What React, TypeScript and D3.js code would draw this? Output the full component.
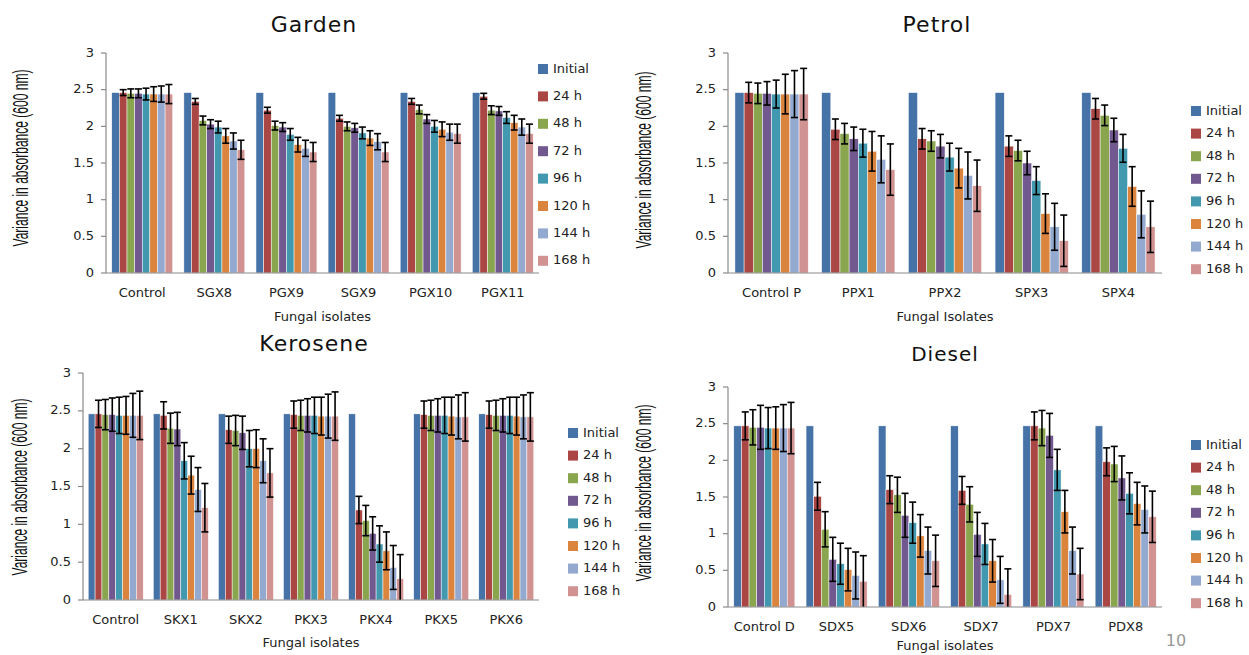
import React, { useLayoutEffect, useRef, useState } from "react";
import * as d3 from "d3";

const seriesLabels = ["Initial", "24 h", "48 h", "72 h", "96 h", "120 h", "144 h", "168 h"];
const seriesColors = ["#4572A7", "#AA4643", "#89A54E", "#71588F", "#4198AF", "#DB843D", "#93A9CF", "#D19392"];
const yTicks = [0, 0.5, 1, 1.5, 2, 2.5, 3];

// Garden
const gardenIsolates = ["Control", "SGX8", "PGX9", "SGX9", "PGX10", "PGX11"];
const gardenValues = [
  [2.46, 2.46, 2.45, 2.45, 2.44, 2.44, 2.44, 2.44],
  [2.46, 2.34, 2.08, 2.03, 1.99, 1.87, 1.8, 1.68],
  [2.46, 2.22, 2.01, 1.99, 1.89, 1.75, 1.7, 1.65],
  [2.46, 2.11, 2.0, 1.98, 1.91, 1.84, 1.79, 1.65],
  [2.46, 2.34, 2.23, 2.1, 2.0, 1.96, 1.92, 1.9],
  [2.46, 2.41, 2.22, 2.21, 2.12, 2.05, 1.99, 1.9],
];
const gardenErrors = [0, 0.04, 0.06, 0.06, 0.08, 0.1, 0.11, 0.13];

// Petrol
const petrolIsolates = ["Control P", "PPX1", "PPX2", "SPX3", "SPX4"];
const petrolValues = [
  [2.46, 2.46, 2.45, 2.45, 2.44, 2.44, 2.44, 2.44],
  [2.46, 1.96, 1.9, 1.83, 1.77, 1.66, 1.55, 1.41],
  [2.46, 1.83, 1.8, 1.73, 1.58, 1.43, 1.33, 1.19],
  [2.46, 1.73, 1.67, 1.5, 1.26, 0.81, 0.63, 0.44],
  [2.46, 2.24, 2.15, 1.95, 1.7, 1.18, 0.8, 0.63],
];
const petrolErrors = [0, 0.14, 0.14, 0.16, 0.19, 0.27, 0.32, 0.35];

// Kerosene
const keroseneIsolates = ["Control", "SKX1", "SKX2", "PKX3", "PKX4", "PKX5", "PKX6"];
const keroseneValues = [
  [2.46, 2.46, 2.45, 2.45, 2.44, 2.44, 2.44, 2.44],
  [2.46, 2.44, 2.27, 2.26, 1.84, 1.65, 1.46, 1.22],
  [2.46, 2.25, 2.24, 2.21, 2.0, 2.0, 1.84, 1.68],
  [2.46, 2.45, 2.44, 2.44, 2.44, 2.43, 2.43, 2.43],
  [2.46, 1.19, 1.05, 0.88, 0.74, 0.65, 0.43, 0.28],
  [2.46, 2.45, 2.44, 2.44, 2.44, 2.43, 2.42, 2.42],
  [2.46, 2.45, 2.44, 2.44, 2.44, 2.43, 2.42, 2.42],
];
const keroseneErrors = [0, 0.18, 0.2, 0.22, 0.24, 0.25, 0.29, 0.32];

// Diesel
const dieselIsolates = ["Control D", "SDX5", "SDX6", "SDX7", "PDX7", "PDX8"];
const dieselValues = [
  [2.47, 2.47, 2.45, 2.45, 2.44, 2.44, 2.44, 2.44],
  [2.47, 1.51, 1.06, 0.65, 0.59, 0.51, 0.43, 0.35],
  [2.47, 1.6, 1.53, 1.25, 1.15, 0.97, 0.77, 0.63],
  [2.47, 1.59, 1.4, 0.99, 0.86, 0.63, 0.37, 0.17],
  [2.47, 2.47, 2.44, 2.34, 1.87, 1.3, 0.77, 0.45],
  [2.47, 1.98, 1.95, 1.76, 1.55, 1.41, 1.33, 1.23],
];
const dieselErrors = [0, 0.19, 0.24, 0.3, 0.28, 0.29, 0.32, 0.35];

const FONT = "'DejaVu Sans', Verdana, sans-serif";

type Layout = {
  x0: number; x1: number; yZero: number; yTop: number;
  titleX: number; titleY: number; titleSize: number;
  legendX: number; legendY: number; legendStep: number;
  labelX: number; labelCy: number;
  tickY: number; xTitleY: number; xTitle: string;
};

// squeezed y-axis label, scaled to fit a fixed length
const SqueezedLabel = ({ x, cy, text }: { x: number; cy: number; text: string }) => {
  const ref = useRef<SVGTextElement>(null);
  const [sx, setSx] = useState(0.53);
  useLayoutEffect(() => {
    if (ref.current) {
      const w = ref.current.getComputedTextLength();
      if (w > 0) setSx(177 / w);
    }
  }, [text]);
  return (
    <text
      ref={ref}
      transform={`translate(${x},${cy}) rotate(-90) scale(${sx},1)`}
      textAnchor="middle"
      fontSize={22}
      fill="#111"
      fontFamily="'Liberation Sans', Arial, sans-serif"
      dominantBaseline="middle"
    >
      {text}
    </text>
  );
};

const Panel = ({ title, isolates, values, errors, lay }: {
  title: string; isolates: string[]; values: number[][]; errors: number[]; lay: Layout;
}) => {
  const x = d3.scaleBand().domain(isolates).range([lay.x0, lay.x1]).paddingInner(0.155).paddingOuter(0.08);
  const xs = d3.scaleBand().domain(seriesLabels).range([0, x.bandwidth()]);
  const y = d3.scaleLinear().domain([0, 3]).range([lay.yZero, lay.yTop]);
  const bw = xs.bandwidth();
  return (
    <g fontFamily={FONT}>
      <text x={lay.titleX} y={lay.titleY} textAnchor="middle" fontSize={lay.titleSize} fill="#111" letterSpacing={1}>
        {title}
      </text>
      <SqueezedLabel x={lay.labelX} cy={lay.labelCy} text="Variance in absorbance (600 nm)" />
      {/* y axis */}
      <line x1={lay.x0} x2={lay.x0} y1={y(0)} y2={y(3)} stroke="#8a8a8a" strokeWidth={1.2} />
      {yTicks.map((t) => (
        <g key={t}>
          <line x1={lay.x0 - 5} x2={lay.x0} y1={y(t)} y2={y(t)} stroke="#8a8a8a" strokeWidth={1.2} />
          <text x={lay.x0 - 12} y={y(t)} textAnchor="end" dominantBaseline="middle" fontSize={13} fill="#222">
            {t}
          </text>
        </g>
      ))}
      {/* bars */}
      {isolates.map((iso, gi) => (
        <g key={iso} transform={`translate(${x(iso)},0)`}>
          {values[gi].map((v, si) => (
            <rect
              key={si}
              x={xs(seriesLabels[si])}
              y={y(v)}
              width={bw}
              height={y(0) - y(v)}
              fill={seriesColors[si]}
              stroke="#fff"
              strokeWidth={0.5}
            />
          ))}
          {values[gi].map((v, si) => {
            if (errors[si] <= 0) return null;
            const cx = (xs(seriesLabels[si]) as number) + bw / 2;
            const hi = v + errors[si];
            const lo = v - errors[si];
            return (
              <g key={"e" + si} stroke="#000" strokeWidth={1.6}>
                <line x1={cx} x2={cx} y1={y(hi)} y2={y(Math.max(0, lo))} />
                <line x1={cx - 3.5} x2={cx + 3.5} y1={y(hi)} y2={y(hi)} />
                {lo > 0 && <line x1={cx - 3.5} x2={cx + 3.5} y1={y(lo)} y2={y(lo)} />}
              </g>
            );
          })}
          <text x={x.bandwidth() / 2} y={lay.tickY} textAnchor="middle" dominantBaseline="middle" fontSize={13} fill="#222">
            {iso}
          </text>
        </g>
      ))}
      {/* x axis */}
      <line x1={lay.x0} x2={lay.x1} y1={y(0)} y2={y(0)} stroke="#8a8a8a" strokeWidth={1.2} />
      <text x={(lay.x0 + lay.x1) / 2} y={lay.xTitleY} textAnchor="middle" dominantBaseline="middle" fontSize={13} fill="#222">
        {lay.xTitle}
      </text>
      {/* legend */}
      {seriesLabels.map((s, i) => (
        <g key={s} transform={`translate(${lay.legendX},${lay.legendY + i * lay.legendStep})`}>
          <rect x={0} y={-5} width={10} height={10} fill={seriesColors[i]} />
          <text x={15} y={0} dominantBaseline="middle" fontSize={13} fill="#222">
            {s}
          </text>
        </g>
      ))}
    </g>
  );
};

const gardenLayout: Layout = {
  x0: 106, x1: 539, yZero: 273, yTop: 53, titleX: 314, titleY: 32, titleSize: 22,
  legendX: 538, legendY: 69, legendStep: 27.4, labelX: 22, labelCy: 158,
  tickY: 293, xTitleY: 317, xTitle: "Fungal isolates",
};
const petrolLayout: Layout = {
  x0: 728, x1: 1162, yZero: 273, yTop: 53, titleX: 937, titleY: 32, titleSize: 22,
  legendX: 1191, legendY: 111, legendStep: 22.6, labelX: 645, labelCy: 160,
  tickY: 293, xTitleY: 317, xTitle: "Fungal Isolates",
};
const keroseneLayout: Layout = {
  x0: 83, x1: 539, yZero: 600, yTop: 373, titleX: 314, titleY: 351, titleSize: 22,
  legendX: 568, legendY: 433, legendStep: 22.6, labelX: 21, labelCy: 487,
  tickY: 620, xTitleY: 643, xTitle: "Fungal isolates",
};
const dieselLayout: Layout = {
  x0: 728, x1: 1162, yZero: 607, yTop: 387, titleX: 945, titleY: 361, titleSize: 20,
  legendX: 1191, legendY: 445, legendStep: 22.6, labelX: 645, labelCy: 493,
  tickY: 627, xTitleY: 646, xTitle: "Fungal isolates",
};

export default function App() {
  return (
    <svg
      width={1249}
      height={655}
      style={{ position: "absolute", left: 0, top: 0, background: "#fff" }}
    >
      <rect width={1249} height={655} fill="#fff" />
      <Panel title="Garden" isolates={gardenIsolates} values={gardenValues} errors={gardenErrors} lay={gardenLayout} />
      <Panel title="Petrol" isolates={petrolIsolates} values={petrolValues} errors={petrolErrors} lay={petrolLayout} />
      <Panel title="Kerosene" isolates={keroseneIsolates} values={keroseneValues} errors={keroseneErrors} lay={keroseneLayout} />
      <Panel title="Diesel" isolates={dieselIsolates} values={dieselValues} errors={dieselErrors} lay={dieselLayout} />
      <text x={1176} y={646} textAnchor="middle" fontSize={16} fill="#999" fontFamily={FONT}>
        10
      </text>
    </svg>
  );
}
